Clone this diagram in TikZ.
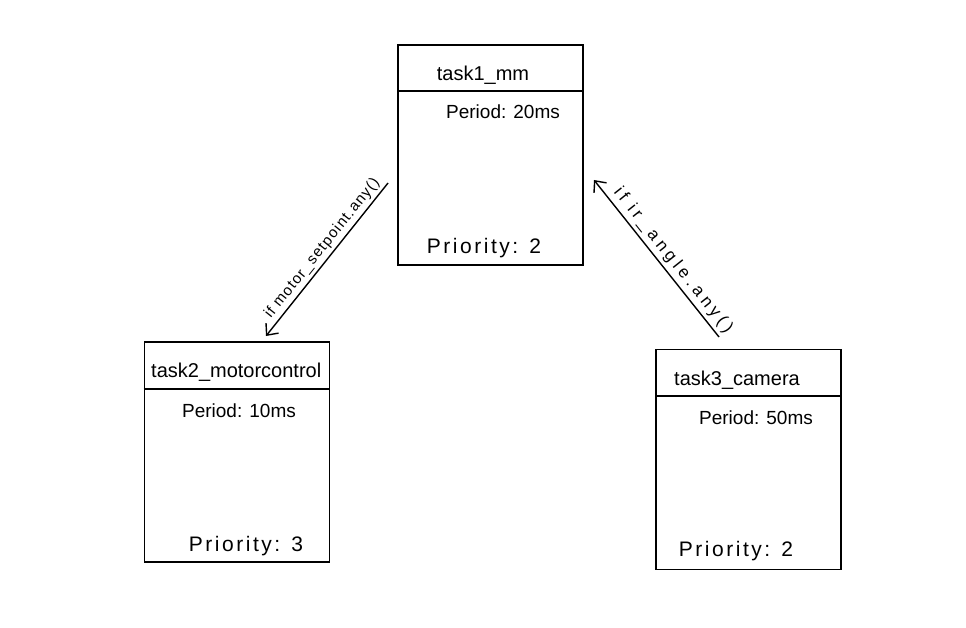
\documentclass[tikz,border=0pt]{standalone}
\usepackage{fontspec}
\setmainfont{Liberation Sans}
\usetikzlibrary{arrows.meta,calc}
\tikzset{
  taskbox/.style={draw=black, line width=1.6pt, minimum width=185pt, minimum height=220pt, inner sep=0pt},
  title/.style={font=\fontsize{20}{22}\selectfont, inner sep=0pt},
  field/.style={font=\fontsize{19}{21}\selectfont, inner sep=0pt},
  prio/.style={font=\fontsize{21}{23}\selectfont\addfontfeature{LetterSpace=12}, inner sep=0pt},
  flow/.style={line width=1.4pt, {Straight Barb[length=9pt,width=16pt,line width=1.4pt]}-},
  flowlabel/.style={sloped, above, inner sep=3pt}
}
\begin{document}
\begin{tikzpicture}[x=1pt,y=-1pt]
\useasboundingbox[fill=white] (0,0) rectangle (966,628);
% boxes
\node[taskbox] (box1) at (490.5,155) {};
\node[taskbox] (box2) at (237,452) {};
\node[taskbox] (box3) at (748.5,459.5) {};
% header lines
\draw[line width=1.6pt] ([yshift=-47pt]box1.north west) -- ([yshift=-47pt]box1.north east);
\draw[line width=1.6pt] ([yshift=-48pt]box2.north west) -- ([yshift=-48pt]box2.north east);
\draw[line width=1.6pt] ([yshift=-47pt]box3.north west) -- ([yshift=-47pt]box3.north east);
% texts
\node[title] (t1) at (483,75) {task1\_mm};
\node[field] (p1) at (503,112) {Period: 20ms};
\node[prio] (r1) at (484,248) {Priority: 2};
\node[title, anchor=west] (t2) at (151,372) {task2\_motorcontrol};
\node[field] (p2) at (239,411) {Period: 10ms};
\node[prio] (r2) at (246,546) {Priority: 3};
\node[title] (t3) at (737,380) {task3\_camera};
\node[field] (p3) at (756,418) {Period: 50ms};
\node[prio] (r3) at (736,551) {Priority: 2};
% connectors
\coordinate (a1s) at (388,183);
\coordinate (a1e) at (266,336);
\coordinate (a2s) at (719,337);
\coordinate (a2e) at (594,180);
\draw[flow] (a1e) -- node[flowlabel, pos=0.53, font=\fontsize{15}{17}\selectfont\addfontfeature{LetterSpace=8}] {if motor\_setpoint.any()} (a1s);
\draw[flow] (a2e) -- node[flowlabel, pos=0.56, font=\fontsize{17}{19}\selectfont\addfontfeature{LetterSpace=25}] {if ir\_angle.any()} (a2s);
\end{tikzpicture}
\end{document}
